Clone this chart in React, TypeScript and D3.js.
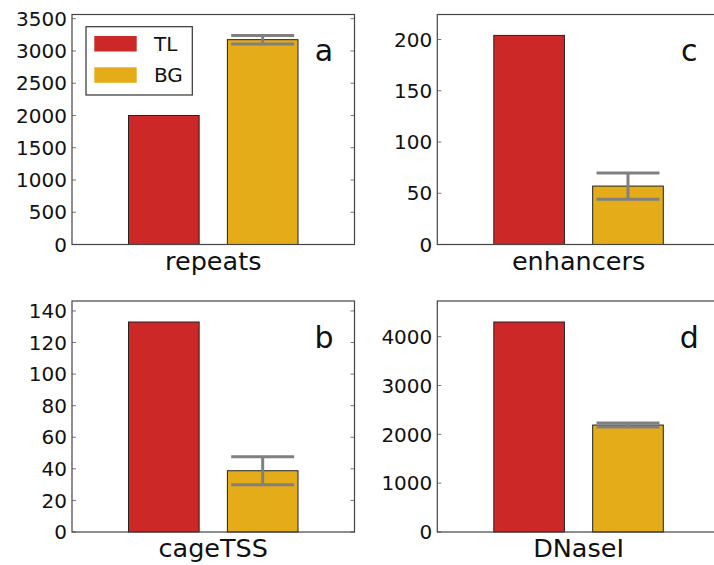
import React from "react";
import * as d3 from "d3";

// ---- data ----
const panelNames = ["repeats", "cageTSS", "enhancers", "DNaseI"];
const panelLetters = ["a", "b", "c", "d"];
const seriesNames = ["TL", "BG"];
const tlValues = [2000, 133, 204, 4300];
const bgValues = [3175, 38.8, 57, 2190];
const bgErrors = [66, 8.9, 12.8, 40];
const tickStep = [500, 20, 50, 1000];
const tickMax = [3500, 140, 200, 4000];

// ---- style / layout ----
const W = 714;
const H = 565;
const colors = ["#cc2828", "#e5ac1a"];
const FONT = "DejaVu Sans, sans-serif";
const panelBoxes = [
  { left: 72, top: 14.5, width: 282.5, height: 230 },
  { left: 72, top: 301, width: 282.5, height: 231 },
  { left: 437.3, top: 14.5, width: 282.5, height: 230 },
  { left: 437.3, top: 301, width: 282.5, height: 231 },
];
const barSlots = [
  [0.8, 1.8],
  [2.2, 3.2],
];
const capHalf = 31.5;

function Panel({ i }: { i: number }) {
  const b = panelBoxes[i];
  const x = d3.scaleLinear().domain([0, 4]).range([b.left, b.left + b.width]);
  const top = Math.max(tlValues[i], bgValues[i] + bgErrors[i]) * 1.1;
  const y = d3.scaleLinear().domain([0, top]).range([b.top + b.height, b.top]);
  const ticks = d3.range(0, tickMax[i] + tickStep[i] / 2, tickStep[i]);
  const vals = [tlValues[i], bgValues[i]];
  const right = b.left + b.width;
  const bottom = b.top + b.height;
  const cx = x((barSlots[1][0] + barSlots[1][1]) / 2);
  return (
    <g>
      {vals.map((v, k) => (
        <rect
          key={k}
          x={x(barSlots[k][0])}
          y={y(v)}
          width={x(barSlots[k][1]) - x(barSlots[k][0])}
          height={y(0) - y(v)}
          fill={colors[k]}
          stroke="#222"
          strokeWidth={1}
        />
      ))}
      {/* error bar */}
      <g stroke="#808080" strokeWidth={3}>
        <line x1={cx} x2={cx} y1={y(bgValues[i] - bgErrors[i])} y2={y(bgValues[i] + bgErrors[i])} />
        <line x1={cx - capHalf} x2={cx + capHalf} y1={y(bgValues[i] + bgErrors[i])} y2={y(bgValues[i] + bgErrors[i])} />
        <line x1={cx - capHalf} x2={cx + capHalf} y1={y(bgValues[i] - bgErrors[i])} y2={y(bgValues[i] - bgErrors[i])} />
      </g>
      {/* ticks */}
      {ticks.map((t) => (
        <g key={t}>
          <line x1={b.left} x2={b.left + 4} y1={y(t)} y2={y(t)} stroke="#777" strokeWidth={1} />
          <line x1={right - 4} x2={right} y1={y(t)} y2={y(t)} stroke="#777" strokeWidth={1} />
          <text
            x={b.left - 5}
            y={y(t)}
            dy="0.36em"
            textAnchor="end"
            fontFamily={FONT}
            fontSize={20}
            fill="#111"
          >
            {t}
          </text>
        </g>
      ))}
      {/* frame */}
      <rect x={b.left} y={b.top} width={b.width} height={b.height} fill="none" stroke="#444" strokeWidth={1.2} />
      {/* labels */}
      <text
        x={(b.left + right) / 2}
        y={bottom + 25}
        textAnchor="middle"
        fontFamily={FONT}
        fontSize={25.5}
        fill="#111"
      >
        {panelNames[i]}
      </text>
      <text
        x={b.left + 0.892 * b.width}
        y={b.top + 46.5}
        textAnchor="middle"
        fontFamily={FONT}
        fontSize={30}
        fill="#111"
      >
        {panelLetters[i]}
      </text>
    </g>
  );
}

function Legend() {
  const lx = 86;
  const ly = 26.7;
  return (
    <g>
      <rect x={lx} y={ly} width={106.3} height={68.3} fill="#fff" stroke="#333" strokeWidth={1.2} />
      {seriesNames.map((s, k) => (
        <g key={s}>
          <rect x={lx + 8.3} y={ly + 9.3 + k * 31.3} width={42.4} height={15.5} fill={colors[k]} />
          <text
            x={lx + 68}
            y={ly + 17 + k * 31.3}
            dy="0.36em"
            fontFamily={FONT}
            fontSize={20}
            fill="#111"
          >
            {s}
          </text>
        </g>
      ))}
    </g>
  );
}

export default function App() {
  return (
    <svg
      width={W}
      height={H}
      style={{ position: "absolute", left: 0, top: 0, background: "#fff" }}
    >
      <rect width={W} height={H} fill="#fff" />
      {panelNames.map((_, i) => (
        <Panel key={i} i={i} />
      ))}
      <Legend />
    </svg>
  );
}
